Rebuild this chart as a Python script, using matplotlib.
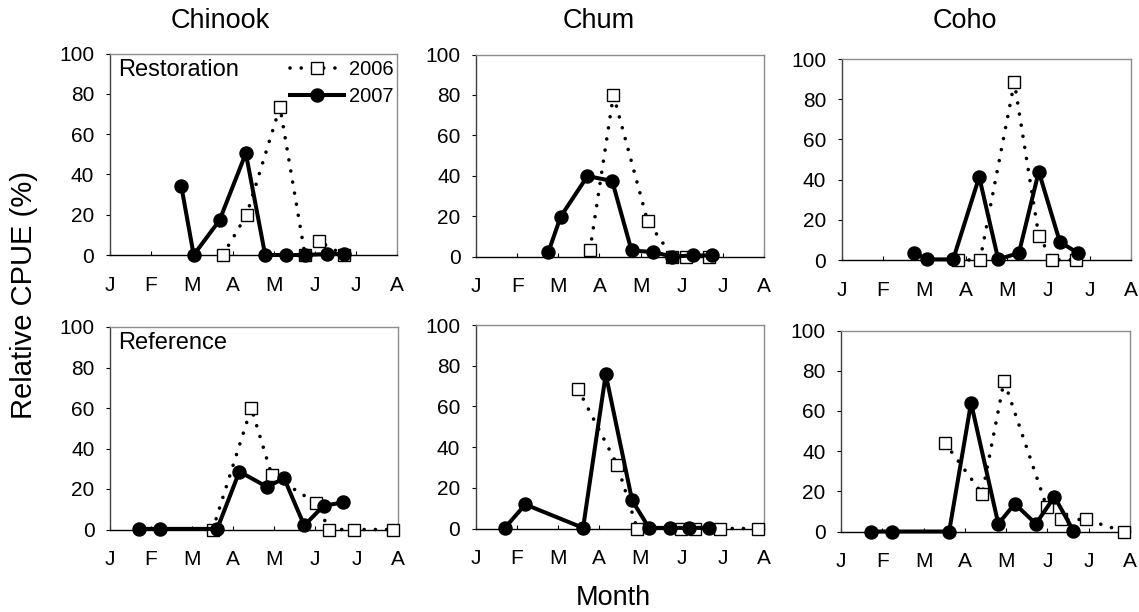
import matplotlib
matplotlib.use("Agg")
import matplotlib.pyplot as plt

plt.rcParams["font.family"] = ["Liberation Sans", "DejaVu Sans"]

# Month positions: Jan 1 = 0 ... Aug 1 = 7
month_ticks = [0, 1, 2, 3, 4, 5, 6, 7]
month_labels = ["J", "F", "M", "A", "M", "J", "J", "A"]
species = ["Chinook", "Chum", "Coho"]
sites = ["Restoration", "Reference"]
years = ["2006", "2007"]

# Restoration site
chinook_rest_2006_x = [2.76, 3.34, 4.15, 4.76, 5.10, 5.70]
chinook_rest_2006_y = [0, 20, 73.5, 0, 6.8, 0]
chinook_rest_2007_x = [1.75, 2.05, 2.68, 3.32, 3.79, 4.29, 4.76, 5.29, 5.71]
chinook_rest_2007_y = [34, 0, 17.3, 50.5, 0, 0, 0, 0.5, 0.5]

chum_rest_2006_x = [2.77, 3.34, 4.17, 4.77, 5.10, 5.66]
chum_rest_2006_y = [3.2, 80, 17.5, 0, 0, 0]
chum_rest_2007_x = [1.76, 2.06, 2.71, 3.31, 3.78, 4.29, 4.77, 5.28, 5.73]
chum_rest_2007_y = [2.3, 19.8, 39.8, 37.4, 3.0, 2.2, 0, 0.5, 0.5]

coho_rest_2006_x = [2.81, 3.35, 4.18, 4.77, 5.10, 5.67]
coho_rest_2006_y = [0, 0, 88.5, 12, 0.2, 0]
coho_rest_2007_x = [1.76, 2.07, 2.70, 3.33, 3.79, 4.29, 4.77, 5.28, 5.73]
coho_rest_2007_y = [3.5, 0.3, 0.3, 41.3, 0.3, 3.5, 44, 9, 3.3]

# Reference site
chinook_ref_2006_x = [2.50, 3.44, 3.94, 5.01, 5.34, 5.93, 6.88]
chinook_ref_2006_y = [0, 60, 26.8, 13.2, 0, 0, 0]
chinook_ref_2007_x = [0.71, 1.22, 2.61, 3.15, 3.82, 4.24, 4.73, 5.20, 5.68]
chinook_ref_2007_y = [0.3, 0.3, 0.3, 28.6, 21.1, 25.2, 2, 11.7, 13.4]

chum_ref_2006_x = [2.49, 3.44, 3.92, 4.99, 5.33, 5.93, 6.86]
chum_ref_2006_y = [68.5, 31.2, 0, 0, 0, 0, 0]
chum_ref_2007_x = [0.71, 1.21, 2.61, 3.16, 3.80, 4.21, 4.72, 5.19, 5.66]
chum_ref_2007_y = [0.3, 11.8, 0.3, 75.8, 13.8, 0.3, 0.3, 0.3, 0.3]

coho_ref_2006_x = [2.52, 3.42, 3.95, 4.98, 5.32, 5.93, 6.85]
coho_ref_2006_y = [44, 18.8, 75, 12.4, 6, 6, 0]
coho_ref_2007_x = [0.72, 1.23, 2.62, 3.15, 3.81, 4.21, 4.72, 5.17, 5.63]
coho_ref_2007_y = [0, 0, 0, 64, 3.8, 13.8, 3.8, 17.3, 0.3]

panels = [
    [(chinook_rest_2006_x, chinook_rest_2006_y, chinook_rest_2007_x, chinook_rest_2007_y),
     (chum_rest_2006_x, chum_rest_2006_y, chum_rest_2007_x, chum_rest_2007_y),
     (coho_rest_2006_x, coho_rest_2006_y, coho_rest_2007_x, coho_rest_2007_y)],
    [(chinook_ref_2006_x, chinook_ref_2006_y, chinook_ref_2007_x, chinook_ref_2007_y),
     (chum_ref_2006_x, chum_ref_2006_y, chum_ref_2007_x, chum_ref_2007_y),
     (coho_ref_2006_x, coho_ref_2006_y, coho_ref_2007_x, coho_ref_2007_y)],
]

W, H = 1139, 612
fig = plt.figure(figsize=(W / 100, H / 100), dpi=100)

# plot boxes in pixels: left, top, right, bottom
boxes = [
    [(109.5, 53.5, 397, 255), (476, 54.5, 764, 256.5), (841.5, 59, 1131, 260)],
    [(110, 327, 397.5, 529.5), (475.5, 325, 764, 528.5), (841, 330.5, 1130, 531.5)],
]

TICK_FS = 15

def px_axes(l, t, r, b):
    return fig.add_axes([l / W, 1 - b / H, (r - l) / W, (b - t) / H])

for row in range(2):
    for col in range(3):
        ax = px_axes(*boxes[row][col])
        x06, y06, x07, y07 = panels[row][col]
        ax.plot(x06, y06, linestyle=(0, (0.01, 3.1)), dash_capstyle="round",
                color="black", lw=2.6, marker="s", ms=8.5, mfc="white",
                mec="black", mew=1.0, clip_on=False, zorder=3, label=years[0])
        ax.plot(x07, y07, linestyle="-", color="black", lw=2.9, marker="o",
                ms=9.4, mfc="black", mec="black", clip_on=False, zorder=4,
                label=years[1])
        ax.set_xlim(0, 7)
        ax.set_ylim(0, 100)
        ax.set_xticks(month_ticks)
        ax.set_xticklabels(month_labels)
        ax.set_yticks([0, 20, 40, 60, 80, 100])
        ax.tick_params(axis="x", direction="in", length=3, width=0.8,
                       pad=15, labelsize=TICK_FS, top=False)
        ax.tick_params(axis="y", direction="out", length=3, width=0.8,
                       pad=8, labelsize=TICK_FS, right=False)
        for side in ("top", "right"):
            ax.spines[side].set_color("#8c8c8c")
            ax.spines[side].set_linewidth(1.0)
        ax.spines["left"].set_color("#404040")
        ax.spines["bottom"].set_color("black")
        ax.spines["left"].set_linewidth(1.0)
        ax.spines["bottom"].set_linewidth(1.0)
        if col == 0:
            ax.text(0.03, 0.92, sites[row], transform=ax.transAxes,
                    fontsize=17, va="center", ha="left")
        if row == 0 and col == 0:
            ax.legend(loc="upper left", frameon=False, fontsize=14.5,
                      handlelength=2.7, handletextpad=0.25, labelspacing=0.4,
                      borderpad=0, borderaxespad=0, numpoints=1,
                      bbox_to_anchor=(290 / W, 1 - 60 / H),
                      bbox_transform=fig.transFigure)

title_x = [220, 599, 965]
for name, x in zip(species, title_x):
    fig.text(x / W, 1 - 21 / H, name, fontsize=19.5, ha="center", va="center")

fig.text(24 / W, 1 - 295 / H, "Relative CPUE (%)", fontsize=21,
         rotation=90, ha="center", va="center")
fig.text(613 / W, 1 - 598 / H, "Month", fontsize=19.5, ha="center", va="center")

fig.savefig("out.png", dpi=100, facecolor="white")
